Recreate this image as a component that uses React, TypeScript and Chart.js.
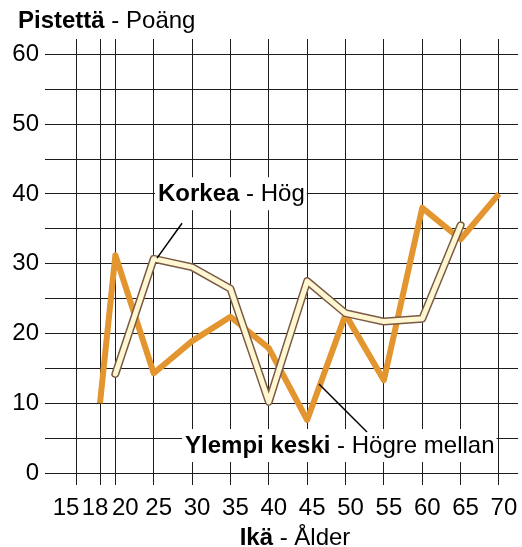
import React, { useEffect, useRef } from 'react';
import { Chart, registerables } from 'chart.js';

Chart.register(...registerables);

// ---- data ----
const ylempiAges = [18, 20, 25, 30, 35, 40, 45, 50, 55, 60, 65, 70];
const ylempiScores = [10, 31.2, 14.3, 18.9, 22.4, 17.9, 7.6, 22.7, 13.3, 38.0, 33.5, 40.0];
const korkeaAges = [20, 25, 30, 35, 40, 45, 50, 55, 60, 65];
const korkeaScores = [14.2, 30.7, 29.5, 26.4, 10.2, 27.5, 22.9, 21.7, 22.1, 35.5];
const xTickValues = [15, 18, 20, 25, 30, 35, 40, 45, 50, 55, 60, 65, 70];
const xTickLabels = ['15', '18', '20', '25', '30', '35', '40', '45', '50', '55', '60', '65', '70'];
const yGridValues = [0, 5, 10, 15, 20, 25, 30, 35, 40, 45, 50, 55, 60];
const yLabelValues = [0, 10, 20, 30, 40, 50, 60];
const yTitle = ['Pistettä', ' - Poäng'];
const xTitle = ['Ikä', ' - Ålder'];
const korkeaLabel = ['Korkea', ' - Hög'];
const ylempiLabel = ['Ylempi keski', ' - Högre mellan'];

// ---- styles ----
const FAMILY = '"Liberation Sans", Arial, Helvetica, sans-serif';
const FS = 24;
const ORANGE = '#E3952F';
const CREAM = '#FFF7D2';
const BROWN = '#7A5A44';
const GRID = '#1c1c1c';

// label anchors (data coords: left x, baseline y) and pointer lines (data coords)
const korkeaAnchor = { x: 25.56, y: 38.95 };
const ylempiAnchor = { x: 29.08, y: 2.86 };
const korkeaPointer = [28.69, 35.8, 25.43, 30.79];
const ylempiPointer = [46.54, 12.75, 52.8, 5.87];
const xLabelShift: Record<number, number> = { 15: -11, 18: -5, 20: 10 };

function measureParts(ctx: CanvasRenderingContext2D, parts: string[]) {
  ctx.font = `bold ${FS}px ${FAMILY}`;
  const w1 = ctx.measureText(parts[0]).width;
  ctx.font = `${FS}px ${FAMILY}`;
  const w2 = ctx.measureText(parts[1]).width;
  return [w1, w2];
}

function drawParts(ctx: CanvasRenderingContext2D, parts: string[], x: number, y: number) {
  const [w1] = measureParts(ctx, parts);
  ctx.fillStyle = '#000';
  ctx.textBaseline = 'alphabetic';
  ctx.textAlign = 'left';
  ctx.font = `bold ${FS}px ${FAMILY}`;
  ctx.fillText(parts[0], x, y);
  ctx.font = `${FS}px ${FAMILY}`;
  ctx.fillText(parts[1], x + w1, y);
}

const textPlugin = {
  id: 'textPlugin',
  beforeDatasetsDraw(chart: any) {
    const ctx: CanvasRenderingContext2D = chart.ctx;
    const xs = chart.scales.x;
    const ys = chart.scales.y;
    ctx.save();
    const labels: [string[], { x: number; y: number }][] = [
      [korkeaLabel, korkeaAnchor],
      [ylempiLabel, ylempiAnchor],
    ];
    for (const [parts, a] of labels) {
      const px = xs.getPixelForValue(a.x);
      const py = ys.getPixelForValue(a.y);
      const [w1, w2] = measureParts(ctx, parts);
      ctx.fillStyle = '#fff';
      ctx.fillRect(px - 3, py - 24, w1 + w2 + 5, 33);
      drawParts(ctx, parts, px, py);
    }
    ctx.restore();
  },
  afterDatasetsDraw(chart: any) {
    const ctx: CanvasRenderingContext2D = chart.ctx;
    const xs = chart.scales.x;
    const ys = chart.scales.y;
    ctx.save();
    ctx.strokeStyle = '#000';
    ctx.lineWidth = 1.5;
    for (const p of [korkeaPointer, ylempiPointer]) {
      ctx.beginPath();
      ctx.moveTo(xs.getPixelForValue(p[0]), ys.getPixelForValue(p[1]));
      ctx.lineTo(xs.getPixelForValue(p[2]), ys.getPixelForValue(p[3]));
      ctx.stroke();
    }
    ctx.restore();
  },
  afterDraw(chart: any) {
    const ctx: CanvasRenderingContext2D = chart.ctx;
    const xs = chart.scales.x;
    ctx.save();
    // x tick labels
    ctx.font = `${FS}px ${FAMILY}`;
    ctx.fillStyle = '#000';
    ctx.textAlign = 'center';
    ctx.textBaseline = 'alphabetic';
    xTickValues.forEach((v, i) => {
      const shift = xLabelShift[v] !== undefined ? xLabelShift[v] : 5;
      ctx.fillText(xTickLabels[i], xs.getPixelForValue(v) + shift, 515);
    });
    // y title
    drawParts(ctx, yTitle, 18, 28);
    // x title
    const [w1, w2] = measureParts(ctx, xTitle);
    drawParts(ctx, xTitle, 295 - (w1 + w2) / 2, 545);
    ctx.restore();
  },
};

export default function App() {
  const ref = useRef<HTMLCanvasElement | null>(null);
  useEffect(() => {
    if (!ref.current) return;
    const chart = new Chart(ref.current, {
      type: 'line',
      data: {
        datasets: [
          {
            label: 'Korkea',
            data: korkeaAges.map((a, i) => ({ x: a, y: korkeaScores[i] })),
            borderColor: CREAM,
            borderWidth: 5,
            borderJoinStyle: 'round',
            borderCapStyle: 'round',
            pointRadius: 0,
            order: 0,
          },
          {
            label: 'Korkea-reuna',
            data: korkeaAges.map((a, i) => ({ x: a, y: korkeaScores[i] })),
            borderColor: BROWN,
            borderWidth: 8,
            borderJoinStyle: 'round',
            borderCapStyle: 'round',
            pointRadius: 0,
            order: 1,
          },
          {
            label: 'Ylempi keski',
            data: ylempiAges.map((a, i) => ({ x: a, y: ylempiScores[i] })),
            borderColor: ORANGE,
            borderWidth: 6,
            borderJoinStyle: 'round',
            borderCapStyle: 'butt',
            pointRadius: 0,
            order: 2,
          },
        ],
      } as any,
      options: {
        responsive: false,
        animation: false,
        layout: { padding: { top: 39, right: 4, left: 0, bottom: 0 } },
        plugins: { legend: { display: false }, tooltip: { enabled: false } },
        elements: { line: { tension: 0 } },
        scales: {
          x: {
            type: 'linear',
            min: 10.83,
            max: 72.48,
            afterBuildTicks: (s: any) => {
              s.ticks = xTickValues.map((v) => ({ value: v }));
            },
            afterFit: (s: any) => {
              s.height = 74;
            },
            ticks: { display: false },
            grid: { color: GRID, lineWidth: 1, drawTicks: true, tickLength: 12 },
            border: { display: false },
          },
          y: {
            type: 'linear',
            min: 0,
            max: 62.2,
            afterBuildTicks: (s: any) => {
              s.ticks = yGridValues.map((v) => ({ value: v }));
            },
            afterFit: (s: any) => {
              s.width = 45;
            },
            ticks: {
              autoSkip: false,
              padding: 6,
              color: '#000',
              font: { size: FS, family: FAMILY },
              callback: (v: any) => (yLabelValues.includes(Number(v)) ? String(v) : ''),
            },
            grid: { color: GRID, lineWidth: 1, drawTicks: false },
            border: { display: false },
          },
        },
      } as any,
      plugins: [textPlugin],
    });
    return () => chart.destroy();
  }, []);
  return (
    <div style={{ position: 'absolute', left: 0, top: 0, width: 522, height: 547, background: '#fff' }}>
      <canvas ref={ref} width={522} height={547} />
    </div>
  );
}
